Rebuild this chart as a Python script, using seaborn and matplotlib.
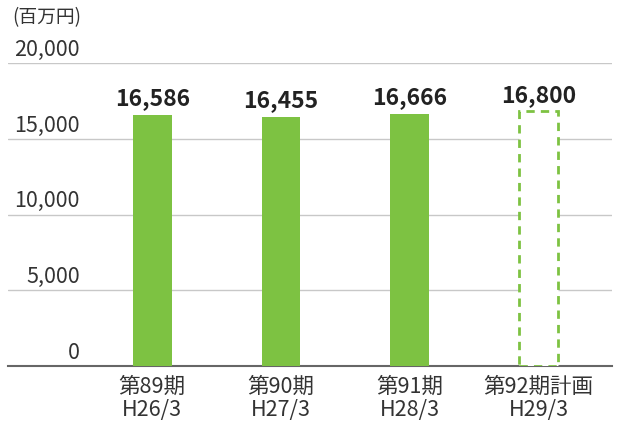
import matplotlib
matplotlib.use("Agg")
import matplotlib.pyplot as plt
import matplotlib.transforms as mtransforms
import seaborn as sns
import pandas as pd

# data
periods = ["第89期\nH26/3", "第90期\nH27/3", "第91期\nH28/3", "第92期計画\nH29/3"]
values = [16586, 16455, 16666, 16800]
is_plan = [False, False, False, True]
yticks = [0, 5000, 10000, 15000, 20000]

green = "#7dc242"
text_col = "#333333"

sns.set_theme(style="white")
plt.rcParams["font.family"] = ["Noto Sans CJK JP", "DejaVu Sans"]

df = pd.DataFrame({"period": periods, "value": values})

fig = plt.figure(figsize=(6.22, 4.24), dpi=100)
ax = fig.add_axes([8 / 622, 58 / 424, 604 / 622, 303 / 424])

sns.barplot(data=df, x="period", y="value", color=green, width=0.3,
            saturation=1, ax=ax, zorder=3)

# plan bar: white fill with dashed green outline
for patch, plan in zip(ax.patches, is_plan):
    patch.set_edgecolor("none")
    if plan:
        patch.set_facecolor("white")
        patch.set_edgecolor(green)
        patch.set_linestyle((0, (3, 2.2)))
        patch.set_linewidth(2)

ax.set_xlim(-1.12, 3.57)
ax.set_ylim(0, 20000)

# grid lines
ax.set_yticks(yticks)
ax.yaxis.grid(True, color="#c8c8c8", linewidth=1, zorder=0)
ax.set_axisbelow(True)
ax.tick_params(axis="y", length=0, labelleft=False)
for s in ["top", "right", "left"]:
    ax.spines[s].set_visible(False)
ax.spines["bottom"].set_color("#666666")
ax.spines["bottom"].set_linewidth(1.5)

# y labels sit above the grid lines, inside the plot
trans = mtransforms.blended_transform_factory(ax.transAxes, ax.transData)
for t in yticks:
    ax.text(0.119, t + 150, f"{t:,}", transform=trans, ha="right", va="bottom",
            fontsize=15.5, color=text_col)

# value labels
for i, v in enumerate(values):
    ax.text(i, v + 300, f"{v:,}", ha="center", va="bottom", fontsize=16.5,
            fontweight="bold", color="#222222", clip_on=False)

ax.set_xlabel("")
ax.set_ylabel("")
ax.tick_params(axis="x", length=0, pad=7, labelsize=15.5, labelcolor=text_col)
for lab in ax.get_xticklabels():
    lab.set_linespacing(1.1)

fig.text(12 / 622, 1 - 18 / 424, "(百万円)", fontsize=13.5, color=text_col,
         va="center", ha="left")

fig.savefig("out.png", dpi=100, facecolor="white")
